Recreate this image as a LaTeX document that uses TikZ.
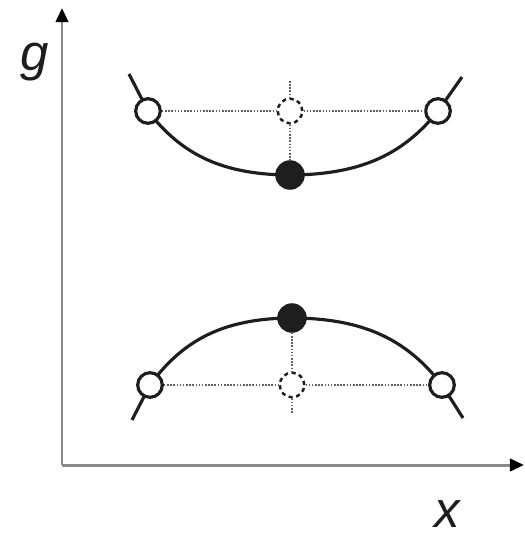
\documentclass[tikz,border=0pt]{standalone}
\usepackage{fontspec}
\setmainfont{Liberation Sans}
\usetikzlibrary{arrows.meta}
\definecolor{ink}{HTML}{1E1E1E}
\definecolor{axisgray}{HTML}{8A8A8A}

\begin{document}
\begin{tikzpicture}[x=0.2mm,y=-0.2mm,
  axis/.style={axisgray,line width=1.7pt,
    -{Triangle[color=black,length=8pt,width=7pt]}},
  curve/.style={ink,line width=1.8pt},
  opendot/.style={circle,draw=ink,fill=white,line width=1.8pt,
    minimum size=14pt,inner sep=0pt},
  fulldot/.style={circle,draw=ink,fill=ink,line width=0.8pt,
    minimum size=16pt,inner sep=0pt},
  ghostdot/.style={circle,draw=ink,fill=white,line width=1.4pt,
    dash pattern=on 2.4pt off 2pt,minimum size=14pt,inner sep=0pt},
  guide/.style={ink!70,line width=1pt,dash pattern=on 0.9pt off 0.9pt},
  lab/.style={font=\fontsize{29}{30}\selectfont\itshape,text=ink}]
  \useasboundingbox (0,0) rectangle (525,536);

  % coordinates in pixels of the original sketch, y running downward
  \coordinate (O) at (62,465);
  \coordinate (ytip) at (62,8);
  \coordinate (xtip) at (524,465);

  \draw[axis] (O)--(ytip);
  \draw[axis] (O)--(xtip);
  \node[lab] (glab) at (35,62) {g};
  \node[lab] (xlab) at (447,514) {x};

  % upper branch: minimum at (290,175), open points at y=111
  \coordinate (uLend) at (129,74);
  \coordinate (uRend) at (462,77);
  \draw[curve] (uLend)
    -- plot[domain=1:0,samples=60,variable=\s]
       ({290-142*\s},{175-64*(0.55*\s*\s+0.45*\s^4)})
    -- plot[domain=0:1,samples=60,variable=\s]
       ({290+148*\s},{175-64*(0.55*\s*\s+0.45*\s^4)})
    -- (uRend);

  % lower branch: maximum at (292,318), open points at y=385
  \coordinate (lLend) at (132,420);
  \coordinate (lRend) at (463,418);
  \draw[curve] (lLend)
    -- plot[domain=1:0,samples=60,variable=\s]
       ({292-142*\s},{318+67*(0.55*\s*\s+0.45*\s^4)})
    -- plot[domain=0:1,samples=60,variable=\s]
       ({292+150*\s},{318+67*(0.55*\s*\s+0.45*\s^4)})
    -- (lRend);

  \node[opendot] (uL) at (148,111) {};
  \node[opendot] (uR) at (438,111) {};
  \node[ghostdot] (uC) at (290,111) {};
  \node[fulldot] (uM) at (290,175) {};
  \coordinate (uTop) at (290,81);

  \node[opendot] (lL) at (150,385) {};
  \node[opendot] (lR) at (442,385) {};
  \node[ghostdot] (lC) at (292,385) {};
  \node[fulldot] (lM) at (292,318) {};
  \coordinate (lBot) at (292,413);

  \draw[guide] (uL)--(uC) (uC)--(uR);
  \draw[guide] (uTop)--(uC) (uC)--(uM);
  \draw[guide] (lL)--(lC) (lC)--(lR);
  \draw[guide] (lM)--(lC) (lC)--(lBot);
\end{tikzpicture}
\end{document}
